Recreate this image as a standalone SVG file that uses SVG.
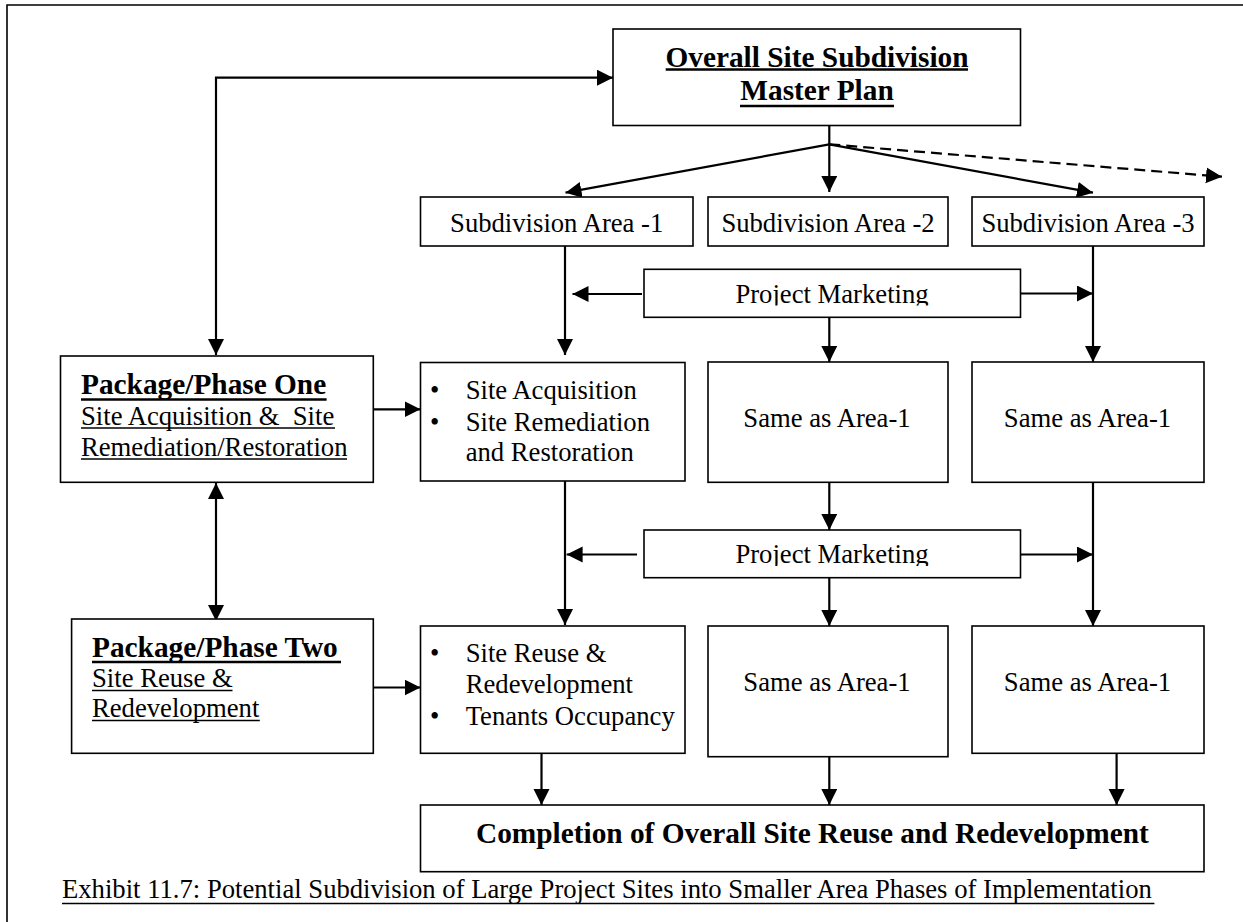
<svg xmlns="http://www.w3.org/2000/svg" width="1243" height="922" viewBox="0 0 1243 922">
  <style>
    .box { fill: #fff; stroke: #000; stroke-width: 1.6; }
    .t { font-family: "Liberation Serif", "Times New Roman", serif; font-size: 26.67px; fill: #000; }
    .b { font-family: "Liberation Serif", "Times New Roman", serif; font-size: 29.33px; font-weight: bold; fill: #000; }
    .c { text-anchor: middle; }
    .ul { stroke: #000; stroke-width: 1.4; }
    .ulb { stroke: #000; stroke-width: 2.4; }
    .con { fill: none; stroke: #000; stroke-width: 2.2; }
    .dash { stroke-dasharray: 11 6; }
    .frame { fill: none; stroke: #000; stroke-width: 1.6; }
  </style>
  <defs>
    <marker id="ah" markerUnits="userSpaceOnUse" markerWidth="17" markerHeight="17" refX="16" refY="8" orient="auto-start-reverse">
      <path d="M0,0 L16,8 L0,16 z" fill="#000"/>
    </marker>
    <clipPath id="clipPm1"><rect x="644" y="269" width="377" height="36.5"/></clipPath>
    <clipPath id="clipPm2"><rect x="644" y="530" width="377" height="36"/></clipPath>
  </defs>
  <rect width="1243" height="922" fill="#fff"/>

  <!-- page frame -->
  <path class="frame" d="M7,922 V5 H1243"/>

  <!-- connectors -->
  <g id="connectors">
    <path class="con" d="M613,77.7 H216 V355" marker-start="url(#ah)" marker-end="url(#ah)"/>
    <path class="con" d="M829.3,125 V144.3"/>
    <path class="con" d="M829.3,144.3 V192" marker-end="url(#ah)"/>
    <path class="con" d="M829.3,144.3 L565.5,192.7" marker-end="url(#ah)"/>
    <path class="con" d="M829.3,144.3 L1093,192.7" marker-end="url(#ah)"/>
    <path class="con dash" d="M829.3,144.3 L1222,176.7" marker-end="url(#ah)"/>
    <path class="con" d="M565,238 V355" marker-end="url(#ah)"/>
    <path class="con" d="M1093,246 V362" marker-end="url(#ah)"/>
    <path class="con" d="M642,294 H572.5" marker-end="url(#ah)"/>
    <path class="con" d="M1020.5,293.5 H1093" marker-end="url(#ah)"/>
    <path class="con" d="M829.3,317 V362" marker-end="url(#ah)"/>
    <path class="con" d="M373,409.3 H420.5" marker-end="url(#ah)"/>
    <path class="con" d="M565,481 V625" marker-end="url(#ah)"/>
    <path class="con" d="M829.3,482 V530" marker-end="url(#ah)"/>
    <path class="con" d="M1093,482 V626" marker-end="url(#ah)"/>
    <path class="con" d="M637,554.5 H566.6" marker-end="url(#ah)"/>
    <path class="con" d="M1020.5,554.5 H1093" marker-end="url(#ah)"/>
    <path class="con" d="M829.3,578 V626" marker-end="url(#ah)"/>
    <path class="con" d="M216,483 V621" marker-start="url(#ah)" marker-end="url(#ah)"/>
    <path class="con" d="M373,687.5 H420.5" marker-end="url(#ah)"/>
    <path class="con" d="M541.5,753 V805" marker-end="url(#ah)"/>
    <path class="con" d="M829.3,753 V805" marker-end="url(#ah)"/>
    <path class="con" d="M1116.6,753 V805" marker-end="url(#ah)"/>
  </g>

  <!-- overall master plan -->
  <g id="master-plan">
    <rect class="box" x="613" y="29" width="407.5" height="96.5"/>
    <text class="b c" x="817" y="67">Overall Site Subdivision</text>
    <line class="ulb" x1="665.7" y1="69.5" x2="968" y2="69.5"/>
    <text class="b c" x="817" y="100">Master Plan</text>
    <line class="ulb" x1="740" y1="106" x2="894" y2="106"/>
  </g>

  <!-- subdivision areas -->
  <g id="area-1">
    <rect class="box" x="420.5" y="197" width="272.5" height="49"/>
    <text class="t c" x="556.7" y="231.7">Subdivision Area -1</text>
  </g>
  <g id="area-2">
    <rect class="box" x="708" y="197" width="240" height="49"/>
    <text class="t c" x="828" y="231.7">Subdivision Area -2</text>
  </g>
  <g id="area-3">
    <rect class="box" x="972" y="197" width="232" height="49"/>
    <text class="t c" x="1088" y="231.7">Subdivision Area -3</text>
  </g>

  <!-- project marketing (first stage) -->
  <g id="marketing-1">
    <rect class="box" x="644" y="269.3" width="376.5" height="48"/>
    <text class="t c" x="832" y="303.3" clip-path="url(#clipPm1)">Project Marketing</text>
  </g>

  <!-- package / phase one -->
  <g id="phase-one">
    <rect class="box" x="60.5" y="356" width="312.8" height="126.3"/>
    <text class="b" x="81" y="394">Package/Phase One</text>
    <line class="ulb" x1="81" y1="399.5" x2="326.6" y2="399.5"/>
    <text class="t" x="81" y="425" xml:space="preserve">Site Acquisition &amp;  Site</text>
    <line class="ul" x1="81" y1="428" x2="335" y2="428"/>
    <text class="t" x="81" y="455.7">Remediation/Restoration</text>
    <line class="ul" x1="81" y1="459" x2="347" y2="459"/>
  </g>

  <!-- area 1, stage one tasks -->
  <g id="area1-stage1">
    <rect class="box" x="420.5" y="362.5" width="264.5" height="118.5"/>
    <text class="t" x="430" y="399">•</text>
    <text class="t" x="465.7" y="399">Site Acquisition</text>
    <text class="t" x="430" y="431.3">•</text>
    <text class="t" x="465.7" y="431.3">Site Remediation</text>
    <text class="t" x="465.7" y="461">and Restoration</text>
  </g>
  <g id="area2-stage1">
    <rect class="box" x="708" y="362" width="240" height="120.3"/>
    <text class="t c" x="827" y="427.3">Same as Area-1</text>
  </g>
  <g id="area3-stage1">
    <rect class="box" x="972" y="362" width="232" height="120.3"/>
    <text class="t c" x="1087.5" y="427.3">Same as Area-1</text>
  </g>

  <!-- project marketing (second stage) -->
  <g id="marketing-2">
    <rect class="box" x="644" y="530" width="376.5" height="47.7"/>
    <text class="t c" x="832" y="563.3" clip-path="url(#clipPm2)">Project Marketing</text>
  </g>

  <!-- package / phase two -->
  <g id="phase-two">
    <rect class="box" x="71.6" y="619" width="301.7" height="134.3"/>
    <text class="b" x="92" y="656.7">Package/Phase Two</text>
    <line class="ulb" x1="92" y1="662" x2="341" y2="662"/>
    <text class="t" x="92" y="687.3">Site Reuse &amp;</text>
    <line class="ul" x1="92" y1="690.5" x2="232.5" y2="690.5"/>
    <text class="t" x="92" y="717.3">Redevelopment</text>
    <line class="ul" x1="92" y1="720.5" x2="259.8" y2="720.5"/>
  </g>

  <!-- stage two tasks -->
  <g id="area1-stage2">
    <rect class="box" x="420.5" y="626" width="264.5" height="127.3"/>
    <text class="t" x="430" y="662.3">•</text>
    <text class="t" x="465.7" y="662.3">Site Reuse &amp;</text>
    <text class="t" x="465.7" y="693.3">Redevelopment</text>
    <text class="t" x="430" y="725">•</text>
    <text class="t" x="465.7" y="725">Tenants Occupancy</text>
  </g>
  <g id="area2-stage2">
    <rect class="box" x="708" y="626" width="240" height="130.7"/>
    <text class="t c" x="827" y="690.7">Same as Area-1</text>
  </g>
  <g id="area3-stage2">
    <rect class="box" x="972" y="626" width="232" height="127.3"/>
    <text class="t c" x="1087.5" y="690.7">Same as Area-1</text>
  </g>

  <!-- completion -->
  <g id="completion">
    <rect class="box" x="420.5" y="805" width="783.5" height="66.7"/>
    <text class="b c" x="812.4" y="843.3">Completion of Overall Site Reuse and Redevelopment</text>
  </g>

  <!-- caption -->
  <g id="caption">
    <text class="t" x="62" y="898.3">Exhibit 11.7: Potential Subdivision of Large Project Sites into Smaller Area Phases of Implementation</text>
    <line class="ul" x1="62" y1="903.5" x2="1154.4" y2="903.5"/>
  </g>
</svg>
